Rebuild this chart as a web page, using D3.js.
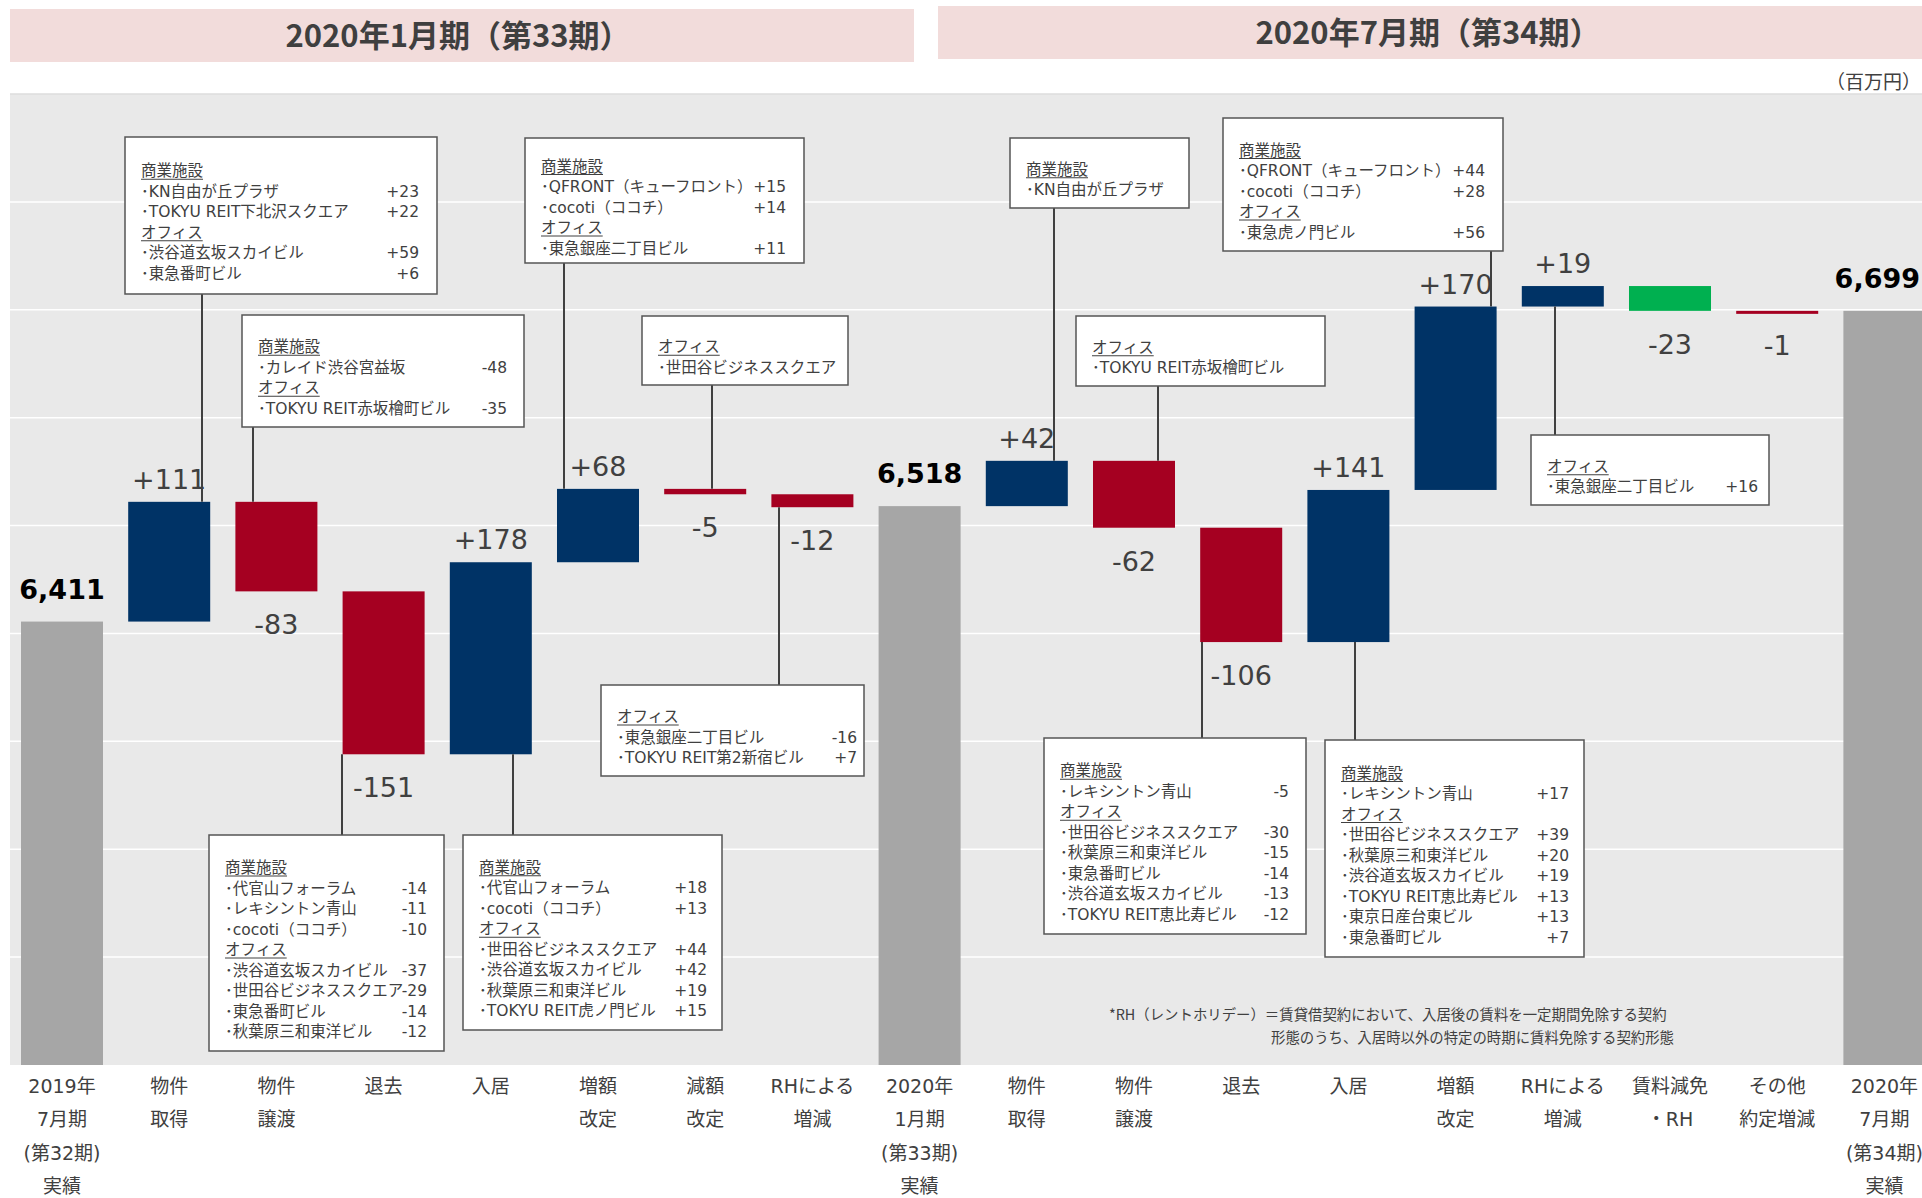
<!DOCTYPE html>
<html lang="ja">
<head>
<meta charset="utf-8">
<title>賃貸事業収入の増減</title>
<script src="https://cdn.jsdelivr.net/npm/d3@7"></script>
<style>
  body { margin: 0; background: #fff; }
  svg { display: block; }
  text { font-family: "DejaVu Sans", "Noto Sans CJK JP", sans-serif; fill: #404040; }
</style>
</head>
<body>
<script>
// bottom labels, one entry per bar (lines of text)
var categories = [
  ["2019年", "7月期", "(第32期)", "実績"],
  ["物件", "取得"], ["物件", "譲渡"], ["退去"], ["入居"],
  ["増額", "改定"], ["減額", "改定"], ["RHによる", "増減"],
  ["2020年", "1月期", "(第33期)", "実績"],
  ["物件", "取得"], ["物件", "譲渡"], ["退去"], ["入居"],
  ["増額", "改定"], ["RHによる", "増減"], ["賃料減免", "・RH"], ["その他", "約定増減"],
  ["2020年", "7月期", "(第34期)", "実績"]
];
// totals are absolute, everything else is a change (百万円)
var values = [6411, 111, -83, -151, 178, 68, -5, -12, 6518, 42, -62, -106, 141, 170, 19, -23, -1, 6699];
var isTotal = [true, false, false, false, false, false, false, false, true,
               false, false, false, false, false, false, false, false, true];
var reliefCat = "賃料減免・RH";

var periodTitles = ["2020年1月期（第33期）", "2020年7月期（第34期）"];
var gridValues = [6000, 6100, 6200, 6300, 6400, 6500, 6600, 6700, 6800, 6900];
var unitLabel = "（百万円）";
var footnote = ["*RH（レントホリデー）＝賃貸借契約において、入居後の賃料を一定期間免除する契約",
                "形態のうち、入居時以外の特定の時期に賃料免除する契約形態"];

// breakdown callouts: bar index + lines [name, value]
var calloutText = [
  { col: 1, lines: [["商業施設"], ["･KN自由が丘プラザ", "+23"], ["･TOKYU REIT下北沢スクエア", "+22"], ["オフィス"], ["･渋谷道玄坂スカイビル", "+59"], ["･東急番町ビル", "+6"]] },
  { col: 2, lines: [["商業施設"], ["･カレイド渋谷宮益坂", "-48"], ["オフィス"], ["･TOKYU REIT赤坂檜町ビル", "-35"]] },
  { col: 3, lines: [["商業施設"], ["･代官山フォーラム", "-14"], ["･レキシントン青山", "-11"], ["･cocoti（ココチ）", "-10"], ["オフィス"], ["･渋谷道玄坂スカイビル", "-37"], ["･世田谷ビジネススクエア", "-29"], ["･東急番町ビル", "-14"], ["･秋葉原三和東洋ビル", "-12"]] },
  { col: 4, lines: [["商業施設"], ["･代官山フォーラム", "+18"], ["･cocoti（ココチ）", "+13"], ["オフィス"], ["･世田谷ビジネススクエア", "+44"], ["･渋谷道玄坂スカイビル", "+42"], ["･秋葉原三和東洋ビル", "+19"], ["･TOKYU REIT虎ノ門ビル", "+15"]] },
  { col: 5, lines: [["商業施設"], ["･QFRONT（キューフロント）", "+15"], ["･cocoti（ココチ）", "+14"], ["オフィス"], ["･東急銀座二丁目ビル", "+11"]] },
  { col: 6, lines: [["オフィス"], ["･世田谷ビジネススクエア"]] },
  { col: 7, lines: [["オフィス"], ["･東急銀座二丁目ビル", "-16"], ["･TOKYU REIT第2新宿ビル", "+7"]] },
  { col: 9, lines: [["商業施設"], ["･KN自由が丘プラザ"]] },
  { col: 10, lines: [["オフィス"], ["･TOKYU REIT赤坂檜町ビル"]] },
  { col: 11, lines: [["商業施設"], ["･レキシントン青山", "-5"], ["オフィス"], ["･世田谷ビジネススクエア", "-30"], ["･秋葉原三和東洋ビル", "-15"], ["･東急番町ビル", "-14"], ["･渋谷道玄坂スカイビル", "-13"], ["･TOKYU REIT恵比寿ビル", "-12"]] },
  { col: 12, lines: [["商業施設"], ["･レキシントン青山", "+17"], ["オフィス"], ["･世田谷ビジネススクエア", "+39"], ["･秋葉原三和東洋ビル", "+20"], ["･渋谷道玄坂スカイビル", "+19"], ["･TOKYU REIT恵比寿ビル", "+13"], ["･東京日産台東ビル", "+13"], ["･東急番町ビル", "+7"]] },
  { col: 13, lines: [["商業施設"], ["･QFRONT（キューフロント）", "+44"], ["･cocoti（ココチ）", "+28"], ["オフィス"], ["･東急虎ノ門ビル", "+56"]] },
  { col: 14, lines: [["オフィス"], ["･東急銀座二丁目ビル", "+16"]] }
];
var headers = ["商業施設", "オフィス"];

// where each callout box sits on the page (layout only)
var calloutBoxes = [
  { x: 125, y: 137, w: 312, h: 157, vr: 18, cx: 202 },
  { x: 242, y: 315, w: 282, h: 112, vr: 17, cx: 253 },
  { x: 209, y: 835, w: 235, h: 216, vr: 17, cx: 342 },
  { x: 463, y: 835, w: 259, h: 195, vr: 15, cx: 513 },
  { x: 525, y: 138, w: 279, h: 125, vr: 18, cx: 564 },
  { x: 642, y: 316, w: 206, h: 69, vr: 17, cx: 712 },
  { x: 601, y: 685, w: 263, h: 91, vr: 7, cx: 779 },
  { x: 1010, y: 138, w: 179, h: 70, vr: 17, cx: 1054 },
  { x: 1076, y: 316, w: 249, h: 70, vr: 17, cx: 1158 },
  { x: 1044, y: 738, w: 262, h: 196, vr: 17, cx: 1202 },
  { x: 1325, y: 740, w: 259, h: 217, vr: 15, cx: 1355 },
  { x: 1223, y: 118, w: 280, h: 133, vr: 18, cx: 1491 },
  { x: 1531, y: 435, w: 238, h: 70, vr: 11, cx: 1555 }
];

var W = 1922, H = 1198;
var colors = { total: "#a6a6a6", up: "#003366", down: "#a50021", relief: "#00b050" };

var svg = d3.select("body").append("svg").attr("width", W).attr("height", H);

var x = d3.scaleBand()
  .domain(d3.range(values.length))
  .range([8.4, 1938])
  .paddingInner(0.235)
  .paddingOuter(0.1175);

var y = d3.scaleLinear().domain([6000, 6900]).range([1065, 94]);

// header banners
var banners = [{ x0: 10, x1: 914, y0: 9, y1: 62 }, { x0: 938, x1: 1930, y0: 6, y1: 59 }];
svg.selectAll("rect.banner").data(banners).enter().append("rect")
  .attr("class", "banner")
  .attr("x", d => d.x0).attr("y", d => d.y0)
  .attr("width", d => d.x1 - d.x0).attr("height", d => d.y1 - d.y0)
  .attr("fill", "#f2dcdb");
svg.selectAll("text.title").data(periodTitles).enter().append("text")
  .attr("class", "title")
  .attr("x", (d, i) => i == 0 ? 458 : 1428)
  .attr("y", (d, i) => (banners[i].y0 + banners[i].y1) / 2 + 11)
  .attr("text-anchor", "middle")
  .style("font-family", "'Noto Sans CJK JP', sans-serif")
  .style("font-weight", "bold")
  .style("font-size", "31px")
  .style("fill", "#3f3f3f")
  .text(d => d);

// unit, kept inside the right edge
svg.append("text")
  .attr("x", W - 1).attr("y", 89)
  .attr("text-anchor", "end")
  .style("font-family", "'Noto Sans CJK JP', sans-serif")
  .style("font-size", "19px")
  .text(unitLabel);

// plot background + grid
svg.append("rect")
  .attr("x", 10).attr("y", y(6900))
  .attr("width", W - 10).attr("height", y(6000) - y(6900))
  .attr("fill", "#e9e9e9");
svg.selectAll("line.grid").data(gridValues.slice(1)).enter().append("line")
  .attr("class", "grid")
  .attr("x1", 10).attr("x2", W)
  .attr("y1", d => y(d)).attr("y2", d => y(d))
  .attr("stroke", d => d == 6900 ? "#dcdcdc" : "#ffffff")
  .attr("stroke-width", 1.5);

// waterfall geometry
var running = 0;
var bars = values.map(function(v, i) {
  var label = categories[i].join("");
  var b = { i: i, v: v };
  if (isTotal[i]) {
    b.lo = y.domain()[0]; b.hi = v; b.kind = "total";
    running = v;
  } else {
    b.lo = Math.min(running, running + v);
    b.hi = Math.max(running, running + v);
    running += v;
    b.kind = label == reliefCat ? "relief" : (v > 0 ? "up" : "down");
  }
  return b;
});

svg.selectAll("rect.bar").data(bars).enter().append("rect")
  .attr("class", "bar")
  .attr("x", d => x(d.i))
  .attr("width", x.bandwidth())
  .attr("y", d => y(d.hi))
  .attr("height", d => Math.max(3, y(d.lo) - y(d.hi)))
  .attr("fill", d => colors[d.kind]);

// value labels
var vals = svg.selectAll("text.val").data(bars).enter().append("text")
  .attr("class", "val")
  .attr("x", d => x(d.i) + x.bandwidth() / 2)
  .attr("y", function(d) {
    if (d.kind == "total") return y(d.hi) - 23;
    if (d.v > 0) return y(d.hi) - 13;
    return y(d.lo) + 43;
  })
  .attr("text-anchor", "middle")
  .style("font-size", "27px")
  .style("font-weight", d => d.kind == "total" ? "bold" : "normal")
  .style("fill", d => d.kind == "total" ? "#000" : "#404040")
  .text(function(d) {
    if (d.kind == "total") return d3.format(",")(d.v);
    return (d.v > 0 ? "+" : "") + d.v;
  });
// last total sits at the page edge: nudge it in
vals.each(function(d) {
  var half = this.getComputedTextLength() / 2;
  var cx = +d3.select(this).attr("x");
  if (cx + half > W - 2) d3.select(this).attr("x", W - 2 - half);
});

// callouts
var pitch = 20.5;
calloutText.forEach(function(c, k) {
  var box = calloutBoxes[k];
  var bar = bars[c.col];
  var above = box.y + box.h < y(bar.hi);
  var g = svg.append("g");
  g.append("line")
    .attr("x1", box.cx).attr("x2", box.cx)
    .attr("y1", above ? box.y + box.h : y(bar.lo))
    .attr("y2", above ? y(bar.hi) : box.y)
    .attr("stroke", "#404040").attr("stroke-width", 2);
  g.append("rect")
    .attr("x", box.x).attr("y", box.y)
    .attr("width", box.w).attr("height", box.h)
    .attr("fill", "#fff").attr("stroke", "#555").attr("stroke-width", 1.5);
  var n = c.lines.length;
  var mid = box.y + box.h / 2 + 12;
  c.lines.forEach(function(ln, j) {
    var by = mid + (j - (n - 1) / 2) * pitch;
    var t = g.append("text")
      .attr("x", box.x + 16).attr("y", by)
      .style("font-size", "15.5px")
      .text(ln[0]);
    if (headers.indexOf(ln[0]) >= 0) {
      var len = t.node().getComputedTextLength();
      g.append("line")
        .attr("x1", box.x + 16).attr("x2", box.x + 16 + len)
        .attr("y1", by + 3).attr("y2", by + 3)
        .attr("stroke", "#404040").attr("stroke-width", 1);
    }
    if (ln[1]) {
      g.append("text")
        .attr("x", box.x + box.w - box.vr).attr("y", by)
        .attr("text-anchor", "end")
        .style("font-size", "15.5px")
        .text(ln[1]);
    }
  });
});

// footnote
svg.selectAll("text.note").data(footnote).enter().append("text")
  .attr("class", "note")
  .attr("x", (d, i) => i == 0 ? 1109 : 1271)
  .attr("y", (d, i) => 1020 + i * 23)
  .style("font-family", "'Noto Sans CJK JP', sans-serif")
  .style("font-size", "14.4px")
  .text(d => d);

// category axis
var xAxis = svg.append("g")
  .attr("transform", "translate(0," + y(6000) + ")")
  .call(d3.axisBottom(x).tickSize(0).tickFormat(""));
xAxis.attr("font-size", null).attr("font-family", null);
xAxis.select(".domain").remove();
xAxis.selectAll(".tick").each(function(d) {
  var t = d3.select(this).select("text").attr("y", null).attr("dy", null)
    .style("font-size", "19px").attr("fill", null);
  categories[d].forEach(function(s, k) {
    t.append("tspan").attr("x", 0).attr("y", 28 + k * 33.3).text(s);
  });
});
</script>
</body>
</html>
